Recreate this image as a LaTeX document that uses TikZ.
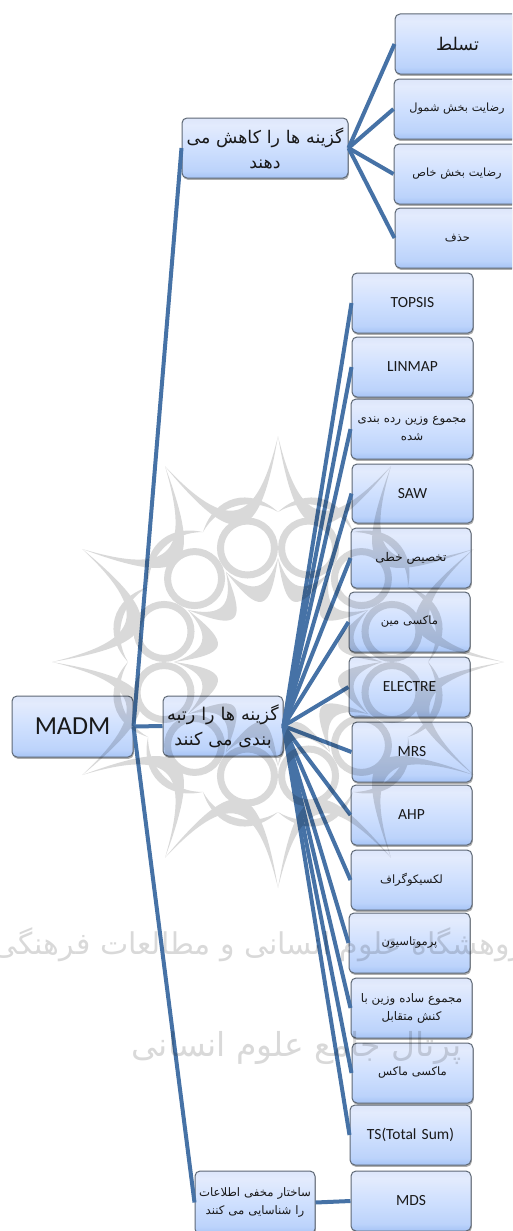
\documentclass[tikz,border=0pt]{standalone}
\usepackage{fontspec}
\usetikzlibrary{shadows}
\setmainfont{Carlito}
\newfontfamily\arabicfont[Script=Arabic]{DejaVu Sans}
\TeXXeTstate=1
\newcommand{\fa}[1]{{\arabicfont\beginR #1\endR}}
\definecolor{linkblue}{HTML}{4672A6}
\definecolor{boxedge}{HTML}{5E6875}
\definecolor{glA}{HTML}{DDE6FA}
\definecolor{glB}{HTML}{E3EBFD}
\definecolor{glC}{HTML}{CFE0FE}
\definecolor{glD}{HTML}{BCD3FB}
\definecolor{glE}{HTML}{A6C4F5}
\pgfdeclareverticalshading{gloss}{100bp}{color(0bp)=(glE);color(25bp)=(glE);color(31bp)=(glD);color(50bp)=(glC);color(69bp)=(glB);color(75bp)=(glA);color(100bp)=(glA)}
\tikzset{
  optbox/.style={draw=boxedge,line width=1pt,rounded corners=5pt,inner sep=0pt,
    shading=gloss,text=black!90,align=center,
    drop shadow={shadow xshift=0.8pt,shadow yshift=-1.8pt,opacity=.45,fill=black!70}},
  link/.style={draw=linkblue,line width=4pt},
  wm/.style={draw=black,line width=7pt},
  wmtext/.style={text=black,inner sep=0pt}
}
\newcommand{\optnode}[7]{%
  \node[optbox,font=#7,minimum width={(#4-#2)*1pt},minimum height={(#5-#3)*1pt},text width={(#4-#2-4)*1pt}]
    (#1) at ({(#2+#4)/2},{(#3+#5)/2}) {#6};}
\begin{document}
\begin{tikzpicture}[x=1pt,y=-1pt]
\clip (0,0) rectangle (512,1231);
\fill[white] (0,0) rectangle (512,1231);
% boxes
\optnode{madm}{12}{696}{133}{757}{MADM}{\fontsize{26}{30}\selectfont}
\optnode{reduce}{182}{118}{348}{178}{\fa{گزینه ها را کاهش می}\\[3pt]\fa{دهند}}{\fontsize{17.4}{22}\selectfont}
\optnode{rank}{163}{696}{283}{756}{\fa{گزینه ها را رتبه}\\[3pt]\fa{بندی می کنند}}{\fontsize{17.6}{22}\selectfont}
\optnode{hidden}{195}{1171}{315}{1234}{\fa{ساختار مخفی اطلاعات}\\[3pt]\fa{را شناسایی می کنند}}{\fontsize{11.7}{15}\selectfont}
\optnode{dom}{395}{14}{520}{74}{\fa{تسلط}}{\fontsize{17.5}{20}\selectfont}
\optnode{sat}{394}{79}{520}{139}{\fa{رضایت بخش شمول}}{\fontsize{11.3}{14}\selectfont}
\optnode{spec}{394}{144}{520}{204}{\fa{رضایت بخش خاص}}{\fontsize{11.3}{14}\selectfont}
\optnode{elim}{395}{208}{520}{268}{\fa{حذف}}{\fontsize{11.5}{14}\selectfont}
\optnode{topsis}{352}{273}{473}{333}{TOPSIS}{\fontsize{15.5}{18}\selectfont}
\optnode{linmap}{352}{337}{473}{397}{LINMAP}{\fontsize{15.5}{18}\selectfont}
\optnode{wsum}{351}{399}{473}{459}{\fa{مجموع وزین رده بندی}\\[4pt]\fa{شده}}{\fontsize{11.8}{14}\selectfont}
\optnode{saw}{352}{464}{473}{523}{SAW}{\fontsize{15.5}{18}\selectfont}
\optnode{linear}{351}{528}{471}{588}{\fa{تخصیص خطی}}{\fontsize{12}{14}\selectfont}
\optnode{maxmin}{349}{592}{470}{652}{\fa{ماکسی مین}}{\fontsize{11.5}{14}\selectfont}
\optnode{electre}{349}{657}{470}{717}{ELECTRE}{\fontsize{15.5}{18}\selectfont}
\optnode{mrs}{352}{722}{472}{782}{MRS}{\fontsize{15.5}{18}\selectfont}
\optnode{ahp}{351}{785}{472}{845}{AHP}{\fontsize{15.5}{18}\selectfont}
\optnode{lex}{351}{850}{472}{910}{\fa{لکسیکوگراف}}{\fontsize{11.5}{14}\selectfont}
\optnode{perm}{349}{913}{470}{973}{\fa{پرموتاسیون}}{\fontsize{11.5}{14}\selectfont}
\optnode{sswm}{351}{978}{472}{1038}{\fa{مجموع ساده وزین با}\\[4pt]\fa{کنش متقابل}}{\fontsize{11.8}{14}\selectfont}
\optnode{maxmax}{352}{1043}{473}{1103}{\fa{ماکسی ماکس}}{\fontsize{11.5}{14}\selectfont}
\optnode{ts}{350}{1105}{471}{1165}{TS(Total Sum)}{\fontsize{15.5}{18}\selectfont}
\optnode{mds}{351}{1171}{471}{1231}{MDS}{\fontsize{15.5}{18}\selectfont}
% connectors
\foreach \t in {reduce,rank,hidden}{\draw[link] (madm.east) -- (\t.west);}
\foreach \t in {dom,sat,spec,elim}{\draw[link] (reduce.east) -- (\t.west);}
\foreach \t in {topsis,linmap,wsum,saw,linear,maxmin,electre,mrs,ahp,lex,perm,sswm,maxmax,ts}{\draw[link] (rank.east) -- (\t.west);}
\draw[link] (hidden.east) -- (mds.west);
% watermark
\begin{scope}[transparency group,opacity=.15]
\begin{scope}[shift={(278,662)}]
\foreach \a in {0,30,...,330}{
  \pgfmathsetmacro{\b}{\a+30}
  \pgfmathsetmacro{\c}{\a+9}
  \pgfmathsetmacro{\d}{\a+21}
  \pgfmathsetmacro{\m}{\a+15}
  \fill[black] (\a:226) .. controls (\c:138) and (\d:138) .. (\b:226)
     .. controls (\d:118) and (\c:118) .. cycle;
  \draw[wm] (\m:118) circle (27);
  \fill[black] (\a:104) .. controls (\c:72) and (\d:72) .. (\b:104)
     .. controls (\d:50) and (\c:50) .. cycle;
  \fill[black] (\a:150) .. controls (\c:178) and (\d:178) .. (\b:150)
     .. controls (\d:168) and (\c:168) .. cycle;
}
\end{scope}
\node[wmtext,font=\arabicfont\fontsize{30}{36}\selectfont,anchor=east] (wmone) at (535,945) {\fa{پژوهشگاه علوم انسانی و مطالعات فرهنگی}};
\node[wmtext,font=\arabicfont\fontsize{33}{38}\selectfont,anchor=east] (wmtwo) at (462,1048) {\fa{پرتال جامع علوم انسانی}};
\end{scope}
\end{tikzpicture}
\end{document}
